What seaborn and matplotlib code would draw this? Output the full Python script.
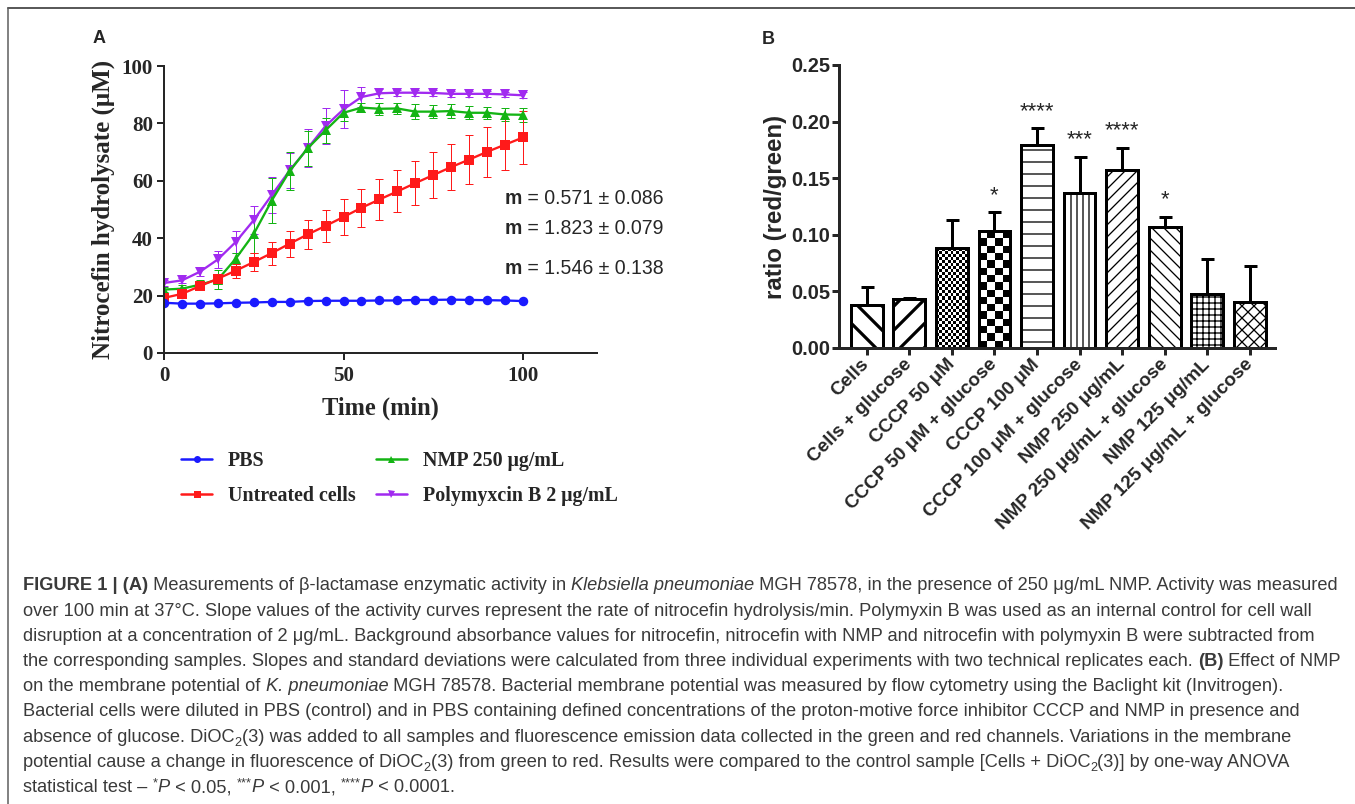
import numpy as np
import pandas as pd
import matplotlib
matplotlib.use("Agg")
import matplotlib.pyplot as plt
from matplotlib.lines import Line2D
from matplotlib.ticker import FormatStrFormatter
import seaborn as sns

# ---------------- Panel A data ----------------
time_min = [0, 5, 10, 15, 20, 25, 30, 35, 40, 45, 50, 55, 60, 65, 70, 75, 80, 85, 90, 95, 100]
pbs = [17.5, 17.2, 17.2, 17.3, 17.5, 17.6, 17.8, 17.8, 18.1, 18.2, 18.2,
       18.2, 18.3, 18.3, 18.5, 18.5, 18.6, 18.5, 18.4, 18.3, 18.1]
pbs_sd = [0.4, 0.4, 0.4, 0.4, 0.4, 0.4, 0.4, 0.4, 0.4, 0.4, 0.4,
          0.4, 0.4, 0.4, 0.4, 0.4, 0.4, 0.4, 0.4, 0.4, 0.4]
untreated = [19.2, 20.6, 23.3, 25.9, 28.7, 31.7, 34.8, 38.1, 41.3, 44.3, 47.4,
             50.6, 53.5, 56.3, 59.2, 62.0, 64.8, 67.4, 70.1, 72.6, 75.1]
untreated_sd = [0.5, 0.8, 1.0, 1.8, 2.4, 3.3, 4.0, 4.5, 5.1, 5.6, 6.2,
                6.6, 7.0, 7.3, 7.8, 7.9, 8.1, 8.5, 8.7, 9.0, 9.1]
nmp = [22.1, 22.4, 23.8, 25.6, 32.9, 41.5, 53.1, 63.4, 71.3, 77.6, 83.7,
       85.5, 85.1, 85.2, 84.1, 84.1, 84.3, 83.7, 83.7, 83.1, 83.0]
nmp_sd = [1.0, 1.2, 1.8, 3.2, 2.0, 6.7, 7.8, 6.7, 6.2, 4.4, 2.8,
          1.5, 2.0, 1.8, 2.5, 2.2, 2.5, 2.2, 2.0, 2.3, 2.5]
poly = [24.4, 25.3, 28.3, 32.6, 38.7, 46.3, 55.0, 63.6, 71.3, 79.1, 84.9,
        89.2, 90.5, 90.7, 90.7, 90.6, 90.3, 90.3, 90.3, 90.1, 89.8]
poly_sd = [1.0, 1.0, 1.5, 2.9, 3.9, 4.9, 6.2, 6.0, 6.6, 6.4, 6.6,
           3.5, 1.5, 1.0, 1.0, 1.0, 1.0, 1.0, 1.0, 1.0, 1.0]
series_labels = ["PBS", "Untreated cells", "NMP 250 μg/mL", "Polymyxcin B 2 μg/mL"]
slope_texts = ["0.571 ± 0.086", "1.823 ± 0.079", "1.546 ± 0.138"]
a_xticks = [0, 50, 100]
a_yticks = [0, 20, 40, 60, 80, 100]

# ---------------- Panel B data ----------------
conditions = ["Cells", "Cells + glucose", "CCCP 50 μM", "CCCP 50 μM + glucose",
              "CCCP 100 μM", "CCCP 100 μM + glucose", "NMP 250 μg/mL",
              "NMP 250 μg/mL + glucose", "NMP 125 μg/mL", "NMP 125 μg/mL + glucose"]
ratio = [0.038, 0.043, 0.088, 0.103, 0.179, 0.137, 0.157, 0.107, 0.048, 0.041]
ratio_err = [0.016, 0.0015, 0.025, 0.017, 0.015, 0.032, 0.020, 0.009, 0.031, 0.031]
signif = ["", "", "", "*", "****", "***", "****", "*", "", ""]
b_yticks = [0.00, 0.05, 0.10, 0.15, 0.20, 0.25]

# ---------------- Caption ----------------
caption = [
    [("FIGURE 1 | (A)", "b"), (" Measurements of β-lactamase enzymatic activity in ", ""),
     ("Klebsiella pneumoniae", "i"), (" MGH 78578, in the presence of 250 μg/mL NMP. Activity was measured", "")],
    [("over 100 min at 37°C. Slope values of the activity curves represent the rate of nitrocefin hydrolysis/min. Polymyxin B was used as an internal control for cell wall", "")],
    [("disruption at a concentration of 2 μg/mL. Background absorbance values for nitrocefin, nitrocefin with NMP and nitrocefin with polymyxin B were subtracted from", "")],
    [("the corresponding samples. Slopes and standard deviations were calculated from three individual experiments with two technical replicates each. ", ""),
     ("(B)", "b"), (" Effect of NMP", "")],
    [("on the membrane potential of ", ""), ("K. pneumoniae", "i"),
     (" MGH 78578. Bacterial membrane potential was measured by flow cytometry using the Baclight kit (Invitrogen).", "")],
    [("Bacterial cells were diluted in PBS (control) and in PBS containing defined concentrations of the proton-motive force inhibitor CCCP and NMP in presence and", "")],
    [("absence of glucose. DiOC", ""), ("2", "sub"),
     ("(3) was added to all samples and fluorescence emission data collected in the green and red channels. Variations in the membrane", "")],
    [("potential cause a change in fluorescence of DiOC", ""), ("2", "sub"),
     ("(3) from green to red. Results were compared to the control sample [Cells + DiOC", ""), ("2", "sub"),
     ("(3)] by one-way ANOVA", "")],
    [("statistical test – ", ""), ("*", "sup"), ("P", "i"), (" < 0.05, ", ""), ("***", "sup"), ("P", "i"),
     (" < 0.001, ", ""), ("****", "sup"), ("P", "i"), (" < 0.0001.", "")],
]

# ---------------- Style ----------------
W, H, DPI = 1355, 804, 72
sns.set_style("ticks")
plt.rcParams["font.family"] = ["Liberation Sans", "DejaVu Sans"]
plt.rcParams["hatch.linewidth"] = 1.3
SERIF = ["Liberation Serif", "DejaVu Serif"]
SANS = ["Liberation Sans", "DejaVu Sans"]
colors = ["#1a1aff", "#ff1a1a", "#14b414", "#a12af0"]
marker_list = ["o", "s", "^", "v"]
color_map = dict(zip(series_labels, colors))
marker_map = dict(zip(series_labels, marker_list))


def fx(x):
    return x / W


def fy(y):
    return 1 - y / H


fig = plt.figure(figsize=(W / DPI, H / DPI), dpi=DPI)
fig.patch.set_facecolor("white")
bg = fig.add_axes([0, 0, 1, 1])
bg.axis("off")

# border
fig.add_artist(Line2D([fx(8), 1], [fy(8), fy(8)], transform=fig.transFigure, color="#5a5a5a", lw=2))
fig.add_artist(Line2D([fx(8), fx(8)], [fy(8), 0], transform=fig.transFigure, color="#5a5a5a", lw=1.5))

# ================= Panel A =================
axA = fig.add_axes([fx(164), fy(353), (597 - 164) / W, (353 - 66) / H])
axA.set_facecolor("none")
all_vals = [pbs, untreated, nmp, poly]
all_sd = [pbs_sd, untreated_sd, nmp_sd, poly_sd]
dfA = pd.DataFrame({
    "time": time_min * 4,
    "value": sum(all_vals, []),
    "series": [lab for lab in series_labels for _ in time_min],
})
draw_order = [series_labels[3], series_labels[2], series_labels[1], series_labels[0]]
for lab in draw_order:
    i = series_labels.index(lab)
    axA.errorbar(time_min, all_vals[i], yerr=all_sd[i], fmt="none", ecolor=colors[i],
                 elinewidth=1.0, capsize=4, capthick=1.0, zorder=1.5)
sns.lineplot(data=dfA, x="time", y="value", hue="series", hue_order=draw_order,
             style="series", style_order=draw_order, markers=marker_map, dashes=False,
             palette=color_map, linewidth=2.3, markersize=9.5, markeredgewidth=0,
             legend=False, ax=axA, errorbar=None)
axA.set_xlim(0, 120.6)
axA.set_ylim(0, 100)
axA.set_xticks(a_xticks)
axA.set_yticks(a_yticks)
sns.despine(ax=axA)
for s in ["left", "bottom"]:
    axA.spines[s].set_linewidth(2)
axA.tick_params(axis="both", width=2, length=7, direction="out")
axA.tick_params(axis="y", pad=4)
axA.tick_params(axis="x", pad=6)
for lab in axA.get_xticklabels() + axA.get_yticklabels():
    lab.set_fontfamily(SERIF)
    lab.set_fontweight("bold")
    lab.set_fontsize(21)
axA.set_xlabel("Time (min)", fontfamily=SERIF, fontweight="bold", fontsize=24.5)
axA.set_ylabel("Nitrocefin hydrolysate (μM)", fontfamily=SERIF, fontweight="bold", fontsize=25)
axA.xaxis.set_label_coords(0.501, -0.192)
axA.xaxis.label.set_va("center")
axA.yaxis.set_label_coords(-0.141, 0.5)
axA.yaxis.label.set_va("center")

# slopes
slope_y = [197, 227, 267]
for yy, st in zip(slope_y, slope_texts):
    tm = bg.annotate("m", xy=(505, H - yy), xycoords="figure pixels", va="center_baseline",
                     ha="left", fontsize=19.5, fontweight="bold", fontfamily=SANS)
    bg.annotate(" = " + st, xy=(1, 0), xycoords=tm, va="bottom", ha="left",
                fontsize=19.5, fontfamily=SANS)

# legend
handles = [Line2D([0], [0], color=c, marker=m, markersize=7, lw=2.5, markeredgewidth=0)
           for c, m in zip(colors, marker_list)]
fig.legend(handles, series_labels, loc="upper left", bbox_to_anchor=(fx(181), fy(451)),
           ncol=2, frameon=False, prop=dict(family=SERIF, weight="bold", size=20),
           handlelength=1.55, handletextpad=0.8, columnspacing=1.0, labelspacing=0.75,
           borderpad=0, borderaxespad=0)

fig.text(fx(93), fy(43), "A", fontsize=18, fontweight="bold", fontfamily=SANS, va="baseline")
fig.text(fx(762), fy(44), "B", fontsize=18, fontweight="bold", fontfamily=SANS, va="baseline")

# ================= Panel B =================
axB = fig.add_axes([fx(839), fy(348), (1275 - 839) / W, (348 - 65) / H])
axB.set_facecolor("none")
sns.barplot(x=conditions, y=ratio, color="white", saturation=1, edgecolor="black",
            linewidth=3, width=0.745, errorbar=None, ax=axB)
axB.set_xlim(-0.65, 9.59)
axB.set_ylim(0, 0.25)
bars = list(axB.patches)
hatches = ["\\", "/", None, None, "-", "||", "//", "\\\\", "++", "xx"]
hatch_lw = [3.2, 3.2, 1.3, 1.3, 1.3, 1.3, 1.3, 1.3, 1.3, 1.3]
checker_px = [None, None, 3.0, 7.5, None, None, None, None, None, None]


def set_hlw(p, lw):
    if hasattr(p, "set_hatch_linewidth"):
        p.set_hatch_linewidth(lw)
    else:
        p._hatch_linewidth = lw


for p, h, lw, ck in zip(bars, hatches, hatch_lw, checker_px):
    p.set_facecolor("white")
    if h:
        p.set_hatch(h)
        set_hlw(p, lw)
    if ck:
        x0, y0, w, hh = p.get_x(), p.get_y(), p.get_width(), p.get_height()
        (px0, py0) = axB.transData.transform((x0, y0))
        (px1, py1) = axB.transData.transform((x0 + w, y0 + hh))
        nx = max(1, int(round((px1 - px0) / ck)))
        ny = max(1, int(round((py1 - py0) / ck)))
        arr = np.add.outer(np.arange(ny), np.arange(nx)) % 2
        im = axB.imshow(arr, cmap="gray", vmin=0, vmax=1, extent=(x0, x0 + w, y0, y0 + hh),
                        origin="lower", interpolation="nearest", aspect="auto",
                        zorder=p.get_zorder() - 0.01)
        im.set_clip_path(p)
        p.set_facecolor("none")
axB.set_xlim(-0.65, 9.59)
axB.set_ylim(0, 0.25)

centers = [p.get_x() + p.get_width() / 2 for p in bars]
axB.errorbar(centers, ratio, yerr=[np.zeros(len(ratio)), ratio_err], fmt="none",
             ecolor="black", elinewidth=3, capsize=6.5, capthick=3, zorder=3)
star_fs = 22
for c, r, e, s in zip(centers, ratio, ratio_err, signif):
    if s:
        axB.annotate(s, xy=(c, r + e), xytext=(0, 24 - 0.58 * star_fs), textcoords="offset points",
                     ha="center", va="baseline", fontsize=star_fs, fontfamily=SANS)

sns.despine(ax=axB)
for s in ["left", "bottom"]:
    axB.spines[s].set_linewidth(3)
axB.set_yticks(b_yticks)
axB.yaxis.set_major_formatter(FormatStrFormatter("%.2f"))
axB.tick_params(axis="both", width=3, length=7, direction="out")
axB.tick_params(axis="y", pad=2, labelsize=20)
axB.set_xticks(range(len(conditions)))
axB.set_xticklabels(conditions, rotation=45, ha="right", va="center", rotation_mode="anchor",
                    fontsize=19, fontweight="bold", fontfamily=SANS)
axB.tick_params(axis="x", pad=7)
for lab in axB.get_yticklabels():
    lab.set_fontweight("bold")
axB.set_xlabel("")
axB.set_ylabel("ratio (red/green)", fontsize=24, fontweight="bold", fontfamily=SANS)
axB.yaxis.set_label_coords(-0.1445, 0.5)
axB.yaxis.label.set_va("center")

# ================= Caption =================
cap_color = "#3a3a3a"
cap_x = 23
cap_base0 = 590.5
cap_step = 25.2
cap_texts = []


def draw_line(y, segs, fs):
    prev = None
    out = []
    for txt, st in segs:
        kw = dict(color=cap_color, fontfamily=SANS, va="baseline", ha="left",
                  fontweight="bold" if st == "b" else "normal",
                  fontstyle="italic" if st == "i" else "normal")
        size = fs * (0.7 if st in ("sub", "sup") else 1.0)
        dy = -4 if st == "sub" else (6 if st == "sup" else 0)
        if prev is None:
            t = bg.annotate(txt, xy=(cap_x, H - y), xycoords="figure pixels", fontsize=size, **kw)
        else:
            t = bg.annotate(txt, xy=(1, H - y), xycoords=(prev, "figure pixels"),
                            xytext=(0, dy), textcoords="offset points", fontsize=size, **kw)
        t._base_size = size
        out.append(t)
        prev = t
    return out


base_fs = 17.0
for i, segs in enumerate(caption):
    cap_texts.append(draw_line(cap_base0 + cap_step * i, segs, base_fs))

renderer = fig.canvas.get_renderer()
first = cap_texts[0]
x_end = first[-1].get_window_extent(renderer).x1
scale = (1338 - cap_x) / (x_end - cap_x)
for line in cap_texts:
    for t in line:
        t.set_fontsize(t._base_size * scale)

fig.savefig("out.png", dpi=DPI, facecolor="white")
